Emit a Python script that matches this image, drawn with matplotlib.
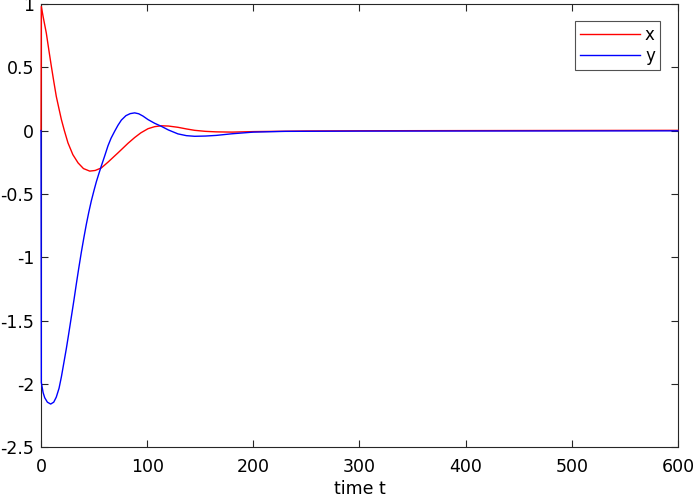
import matplotlib
matplotlib.use('Agg')
import matplotlib.pyplot as plt

plt.rcParams['font.family'] = ['DejaVu Sans']

# values
t_x = [0, 0.3, 2, 5, 7.5, 9.7, 12, 14.4, 17, 19.2, 22, 25.4, 30, 34.9, 40,
       45.9, 51, 56.8, 63, 69.4, 72.5, 77, 82, 88.2, 94, 100.8, 107, 113.3,
       120, 129, 137, 144.8, 155, 165, 180, 200, 250, 320, 400, 500, 600]
x_vals = [0.0, 0.98, 0.9, 0.77, 0.63, 0.51, 0.39, 0.27, 0.17, 0.087, 0.0,
          -0.097, -0.19, -0.255, -0.3, -0.32, -0.315, -0.295, -0.25, -0.2,
          -0.176, -0.14, -0.1, -0.055, -0.018, 0.015, 0.031, 0.038, 0.036,
          0.026, 0.013, 0.002, -0.006, -0.01, -0.012, -0.008, -0.003, -0.001,
          0.0, 0.001, 0.002]

t_y = [0, 0.3, 2, 3.5, 6, 9.1, 12, 14.4, 17, 19.2, 21.5, 23.9, 26, 28.6, 31,
       33.3, 35.5, 38, 40.5, 42.7, 45, 47.4, 50, 52.1, 54.5, 56.8, 60, 63.1,
       66, 69.4, 72.5, 75.7, 80, 84, 88.2, 92, 96, 100.8, 107, 113.3, 120,
       129, 137, 144.8, 155, 165, 180, 200, 230, 300, 450, 600]
y_vals = [0.0, -1.99, -2.07, -2.11, -2.145, -2.16, -2.145, -2.105, -2.035,
          -1.945, -1.835, -1.72, -1.61, -1.47, -1.34, -1.21, -1.09, -0.96,
          -0.84, -0.74, -0.645, -0.555, -0.47, -0.405, -0.34, -0.28, -0.2,
          -0.12, -0.06, -0.005, 0.042, 0.083, 0.118, 0.134, 0.14, 0.133,
          0.115, 0.087, 0.058, 0.034, 0.005, -0.026, -0.04, -0.045, -0.043,
          -0.038, -0.025, -0.012, -0.006, -0.004, -0.003, -0.002]

fig = plt.figure(figsize=(6.95, 4.99), dpi=100)
ax = fig.add_axes([0.059, 0.104, 0.9165, 0.888])

ax.plot(t_x, x_vals, color='#ff0000', lw=1.0, label='x', zorder=3,
        clip_on=False)
ax.plot(t_y, y_vals, color='#0000ff', lw=1.0, label='y', zorder=3,
        clip_on=False)

ax.set_xlim(0, 600)
ax.set_ylim(-2.5, 1)
ax.set_xticks([0, 100, 200, 300, 400, 500, 600])
ax.set_yticks([-2.5, -2, -1.5, -1, -0.5, 0, 0.5, 1])
ax.set_yticklabels(['-2.5', '-2', '-1.5', '-1', '-0.5', '0', '0.5', '1'])
ax.tick_params(direction='in', top=True, right=True, labelsize=12.5,
               length=5, width=0.8, colors='#262626', labelcolor='black')
ax.tick_params(axis='x', pad=8)
ax.tick_params(axis='y', pad=5)
for s in ax.spines.values():
    s.set_color('#262626')
    s.set_linewidth(0.8)
ax.set_xlabel('time t', fontsize=12.5, labelpad=3)

leg = ax.legend(loc='upper right', bbox_to_anchor=(0.9715, 0.962), fontsize=12,
                frameon=True, fancybox=False, handlelength=3.6,
                handletextpad=0.3, borderpad=0.3, labelspacing=0.2,
                borderaxespad=0)
leg.get_frame().set_edgecolor('#262626')
leg.get_frame().set_linewidth(0.8)

fig.savefig('out.png', dpi=100)
